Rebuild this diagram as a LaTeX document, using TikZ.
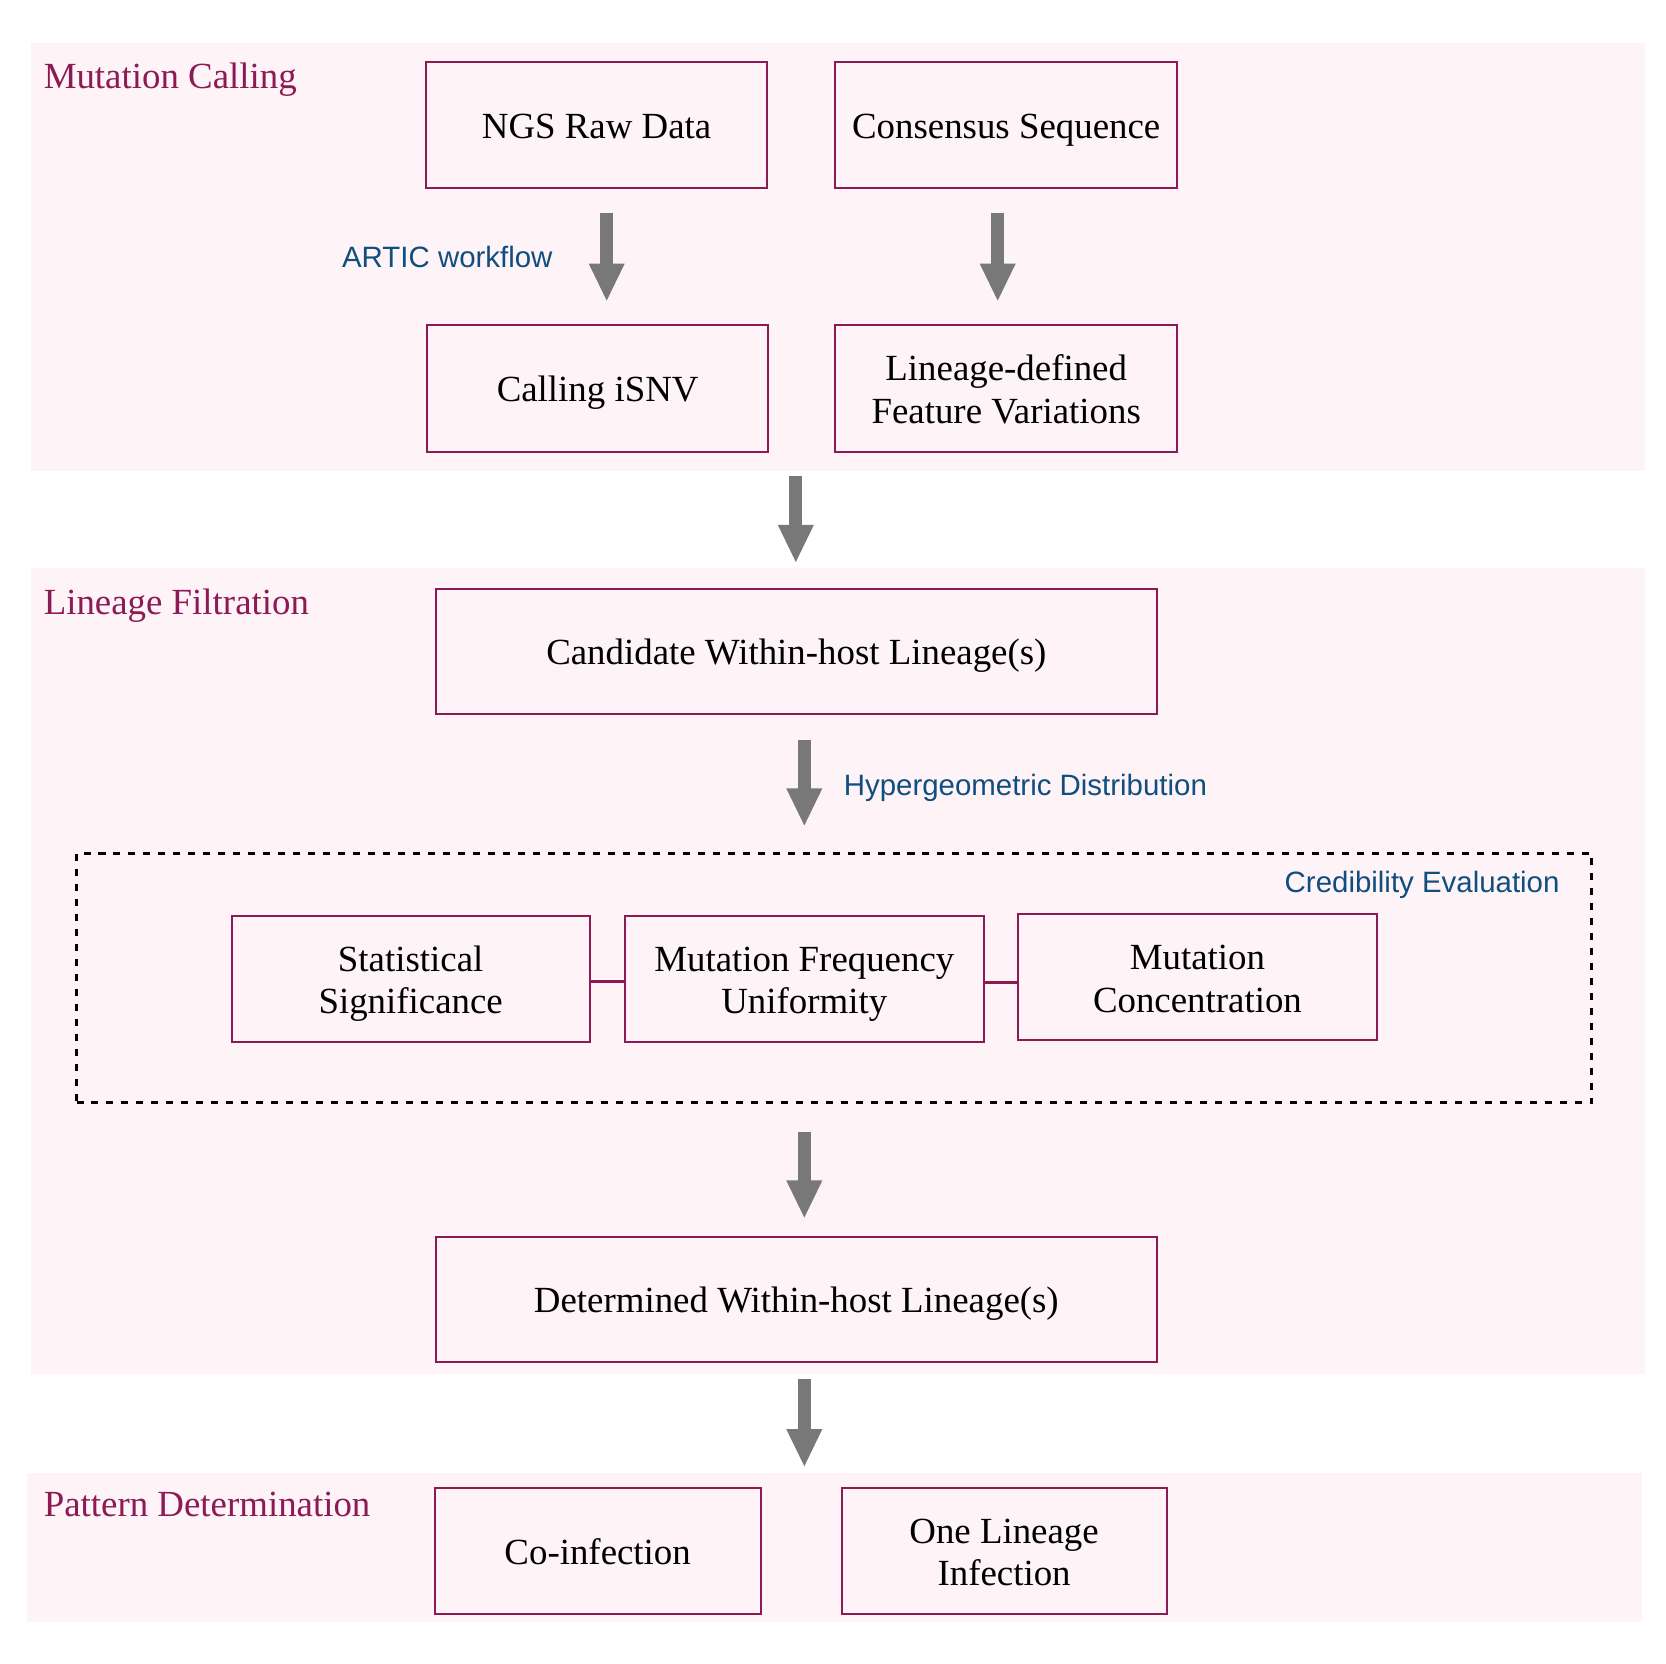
\documentclass[tikz,border=0pt]{standalone}
\usepackage{fontspec}
\setmainfont{Liberation Serif}
\newfontfamily\lblfont{Liberation Sans}
\usetikzlibrary{arrows.meta}
\definecolor{bandpink}{RGB}{254,243,247}
\definecolor{maroonc}{RGB}{140,26,85}
\definecolor{lblblue}{RGB}{16,78,128}
\definecolor{arrgray}{RGB}{120,120,120}
\newcommand\vstr{\rule[-6.5pt]{0pt}{39pt}}
\begin{document}
\begin{tikzpicture}[x=1pt,y=-1pt,
 box/.style={draw=maroonc,fill=bandpink,line width=1.9pt,inner sep=0pt,align=center,font=\fontsize{34.7}{40}\selectfont},
 titletxt/.style={text=maroonc,anchor=base west,inner sep=0pt,font=\fontsize{34.7}{40}\selectfont},
 lbl/.style={text=lblblue,inner sep=0pt,font=\lblfont\fontsize{27.7}{32}\selectfont},
 flow/.style={draw=arrgray,line width=12pt,-{Triangle[width=31pt,length=36pt,fill=arrgray]}},
 link/.style={draw=maroonc,line width=2.8pt},
 frame/.style={draw=black,line width=2.8pt,dash pattern=on 6.6pt off 7.5pt,inner sep=0pt}]
\useasboundingbox (0,0) rectangle (1568,1566);
\fill[white] (0,0) rectangle (1568,1566);
% bands
\fill[bandpink] (29,40) rectangle (1548,443);
\fill[bandpink] (29,535) rectangle (1548,1293);
\fill[bandpink] (25,1386) rectangle (1545,1527);
% titles
\node[titletxt] (t1) at (41,83.4) {Mutation Calling};
\node[titletxt] (t2) at (41,578.5) {Lineage Filtration};
\node[titletxt] (t3) at (41,1427) {Pattern Determination};
% top section
\node[box,minimum width=321pt,minimum height=119pt] (ngs) at (561.5,117.5) {\vstr NGS Raw Data};
\node[box,minimum width=322pt,minimum height=119pt] (cons) at (947,117.5) {\vstr Consensus Sequence};
\node[box,minimum width=321pt,minimum height=119pt] (isnv) at (562.5,365.5) {\vstr Calling iSNV};
\node[box,minimum width=322pt,minimum height=119pt] (feat) at (947,365.5) {\vstr Lineage-defined\\\vstr Feature Variations};
\coordinate (a1s) at (571,200); \coordinate (a1e) at (571,284);
\coordinate (a2s) at (939,200); \coordinate (a2e) at (939,284);
\draw[flow] (a1s) -- (a1e);
\draw[flow] (a2s) -- (a2e);
\node[lbl,anchor=base] (artic) at (421,252) {ARTIC workflow};
\coordinate (a3s) at (749,448); \coordinate (a3e) at (749,530);
\draw[flow] (a3s) -- (a3e);
% middle section
\node[box,minimum width=679pt,minimum height=118pt] (cand) at (749.5,613) {\vstr Candidate Within-host Lineage(s)};
\coordinate (a4s) at (757,696); \coordinate (a4e) at (757,778);
\draw[flow] (a4s) -- (a4e);
\node[lbl,anchor=base west] (hyper) at (794,749) {Hypergeometric Distribution};
\node[frame,minimum width=1426pt,minimum height=235pt] (cred) at (785,920.5) {};
\node[lbl,anchor=base east] (credl) at (1468,840) {Credibility Evaluation};
\node[box,minimum width=337pt,minimum height=119pt] (stat) at (386.5,921.5) {\vstr Statistical\\\vstr Significance};
\node[box,minimum width=338pt,minimum height=119pt] (mf) at (757,921.5) {\vstr Mutation Frequency\\\vstr Uniformity};
\node[box,minimum width=338pt,minimum height=119pt] (mc) at (1127,919.5) {\vstr Mutation\\\vstr Concentration};
\coordinate (ly1) at (0,924); \coordinate (ly2) at (0,925);
\draw[link] (stat.east |- ly1) -- (mf.west |- ly1);
\draw[link] (mf.east |- ly2) -- (mc.west |- ly2);
\coordinate (a5s) at (757,1065); \coordinate (a5e) at (757,1147);
\draw[flow] (a5s) -- (a5e);
\node[box,minimum width=679pt,minimum height=118pt] (det) at (749.5,1223) {\vstr Determined Within-host Lineage(s)};
\coordinate (a6s) at (757,1298); \coordinate (a6e) at (757,1381);
\draw[flow] (a6s) -- (a6e);
% bottom section
\node[box,minimum width=307pt,minimum height=119pt] (coinf) at (562.5,1459.5) {\vstr Co-infection};
\node[box,minimum width=306pt,minimum height=119pt] (one) at (945,1459.5) {\vstr One Lineage\\\vstr Infection};
\end{tikzpicture}
\end{document}
